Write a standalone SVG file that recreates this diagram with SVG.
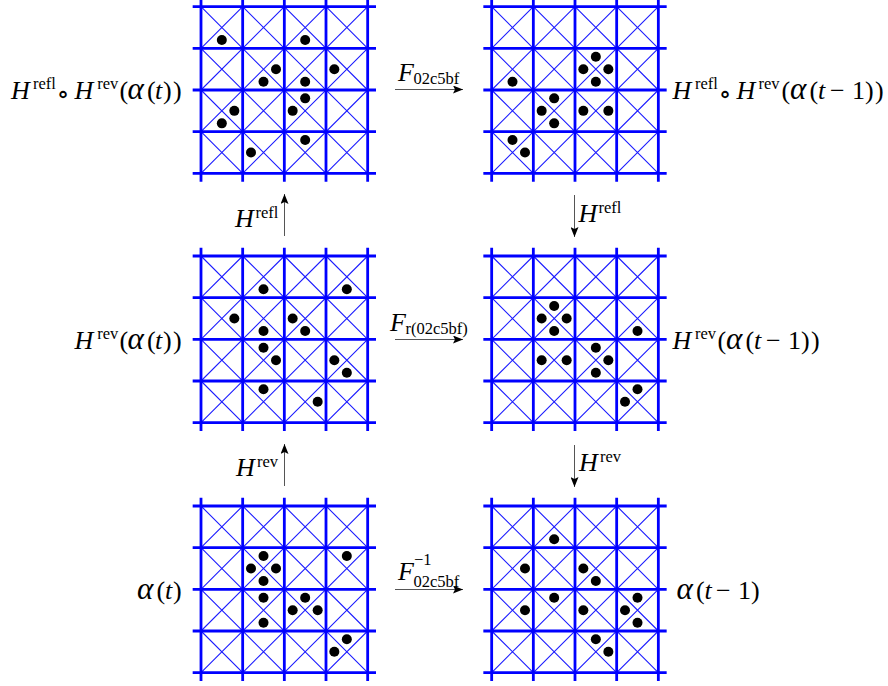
<svg xmlns="http://www.w3.org/2000/svg" xmlns:xlink="http://www.w3.org/1999/xlink" width="888" height="686" viewBox="0 0 888 686">
<style>
.diag{fill:none;stroke:#1c1cff;stroke-width:1.1}
.thick{fill:none;stroke:#0000ff;stroke-width:2.8}
.dot{fill:#000}
.t{font-family:"Liberation Serif","DejaVu Serif",serif;font-size:26px;fill:#000}
.i{font-style:italic}
.a{font-style:italic;font-size:31px}
.s{font-size:16.5px}
.op{font-family:"DejaVu Serif","Liberation Serif",serif;font-size:27px;text-anchor:middle}
.arr{stroke:#555;stroke-width:1;fill:none;marker-end:url(#ah)}
</style>
<defs>
<marker id="ah" viewBox="0 0 10 8" refX="10" refY="4" markerWidth="10" markerHeight="8" markerUnits="userSpaceOnUse" orient="auto">
<path d="M0,0 L10,4 L0,8 L2,4 z" fill="#000"/>
</marker>
<g id="grid">
<path class="diag" d="M0,0L166.67,166.67M41.67,0L166.67,125M83.33,0L166.67,83.33M125,0L166.67,41.67M0,41.67L125,166.67M0,83.33L83.33,166.67M0,125L41.67,166.67M0,41.67L41.67,0M0,83.33L83.33,0M0,125L125,0M0,166.67L166.67,0M41.67,166.67L166.67,41.67M83.33,166.67L166.67,83.33M125,166.67L166.67,125"/>
<path class="thick" d="M-8.33,0H175M-8.33,41.67H175M-8.33,83.33H175M-8.33,125H175M-8.33,166.67H175M0,-8.33V175M41.67,-8.33V175M83.33,-8.33V175M125,-8.33V175M166.67,-8.33V175"/>
</g>
</defs>
<rect width="888" height="686" fill="#fff"/>

<g id="node-a">
<g transform="translate(201,6.67)">
<use href="#grid"/>
<circle class="dot" r="5" cx="20.83" cy="33.33"/><circle class="dot" r="5" cx="104.17" cy="33.33"/>
<circle class="dot" r="5" cx="75" cy="62.5"/><circle class="dot" r="5" cx="62.5" cy="75"/>
<circle class="dot" r="5" cx="133.33" cy="62.5"/><circle class="dot" r="5" cx="104.17" cy="75"/>
<circle class="dot" r="5" cx="104.17" cy="91.67"/><circle class="dot" r="5" cx="33.33" cy="104.17"/>
<circle class="dot" r="5" cx="20.83" cy="116.67"/><circle class="dot" r="5" cx="91.67" cy="104.17"/>
<circle class="dot" r="5" cx="104.17" cy="133.33"/><circle class="dot" r="5" cx="50" cy="145.83"/>
</g>
<text class="t"><tspan class="i" x="11" y="98.5">H</tspan><tspan class="s" x="33" y="89">refl</tspan><tspan class="op" x="63" y="103">∘</tspan><tspan class="i" x="74.5" y="98.5">H</tspan><tspan class="s" x="97.2" y="89">rev</tspan><tspan x="119.5" y="98.5">(</tspan><tspan class="a" x="127.5" y="98.5">α</tspan><tspan x="147" y="98.5">(</tspan><tspan class="i" x="155" y="98.5">t</tspan><tspan x="163" y="98.5">)</tspan><tspan x="173" y="98.5">)</tspan></text>
</g>

<g id="node-b">
<g transform="translate(491.67,6.67)">
<use href="#grid"/>
<circle class="dot" r="5" cx="104.17" cy="50"/><circle class="dot" r="5" cx="91.67" cy="62.5"/>
<circle class="dot" r="5" cx="116.67" cy="62.5"/><circle class="dot" r="5" cx="104.17" cy="75"/>
<circle class="dot" r="5" cx="20.83" cy="75"/><circle class="dot" r="5" cx="62.5" cy="91.67"/>
<circle class="dot" r="5" cx="50" cy="104.17"/><circle class="dot" r="5" cx="62.5" cy="116.67"/>
<circle class="dot" r="5" cx="91.67" cy="104.17"/><circle class="dot" r="5" cx="116.67" cy="104.17"/>
<circle class="dot" r="5" cx="20.83" cy="133.33"/><circle class="dot" r="5" cx="33.33" cy="145.83"/>
</g>
<text class="t"><tspan class="i" x="672.5" y="98.5">H</tspan><tspan class="s" x="695" y="89">refl</tspan><tspan class="op" x="725" y="103">∘</tspan><tspan class="i" x="736.5" y="98.5">H</tspan><tspan class="s" x="758.5" y="89">rev</tspan><tspan x="781.5" y="98.5">(</tspan><tspan class="a" x="790" y="98.5">α</tspan><tspan x="809.5" y="98.5">(</tspan><tspan class="i" x="818" y="98.5">t</tspan><tspan x="830" y="98.5">−</tspan><tspan x="852" y="98.5">1</tspan><tspan x="865" y="98.5">)</tspan><tspan x="875" y="98.5">)</tspan></text>
</g>

<g id="node-c">
<g transform="translate(201,256)">
<use href="#grid"/>
<circle class="dot" r="5" cx="62.5" cy="33.33"/><circle class="dot" r="5" cx="145.83" cy="33.33"/>
<circle class="dot" r="5" cx="33.33" cy="62.5"/><circle class="dot" r="5" cx="62.5" cy="75"/>
<circle class="dot" r="5" cx="91.67" cy="62.5"/><circle class="dot" r="5" cx="104.17" cy="75"/>
<circle class="dot" r="5" cx="62.5" cy="91.67"/><circle class="dot" r="5" cx="75" cy="104.17"/>
<circle class="dot" r="5" cx="133.33" cy="104.17"/><circle class="dot" r="5" cx="145.83" cy="116.67"/>
<circle class="dot" r="5" cx="62.5" cy="133.33"/><circle class="dot" r="5" cx="116.67" cy="145.83"/>
</g>
<text class="t"><tspan class="i" x="74.5" y="348.5">H</tspan><tspan class="s" x="97.2" y="339">rev</tspan><tspan x="119.5" y="348.5">(</tspan><tspan class="a" x="127.5" y="348.5">α</tspan><tspan x="147" y="348.5">(</tspan><tspan class="i" x="155" y="348.5">t</tspan><tspan x="163" y="348.5">)</tspan><tspan x="173" y="348.5">)</tspan></text>
</g>

<g id="node-d">
<g transform="translate(491.67,256)">
<use href="#grid"/>
<circle class="dot" r="5" cx="62.5" cy="50"/><circle class="dot" r="5" cx="50" cy="62.5"/>
<circle class="dot" r="5" cx="75" cy="62.5"/><circle class="dot" r="5" cx="62.5" cy="75"/>
<circle class="dot" r="5" cx="145.83" cy="75"/><circle class="dot" r="5" cx="104.17" cy="91.67"/>
<circle class="dot" r="5" cx="116.67" cy="104.17"/><circle class="dot" r="5" cx="104.17" cy="116.67"/>
<circle class="dot" r="5" cx="50" cy="104.17"/><circle class="dot" r="5" cx="75" cy="104.17"/>
<circle class="dot" r="5" cx="145.83" cy="133.33"/><circle class="dot" r="5" cx="133.33" cy="145.83"/>
</g>
<text class="t"><tspan class="i" x="672.5" y="348.5">H</tspan><tspan class="s" x="695" y="339">rev</tspan><tspan x="717.5" y="348.5">(</tspan><tspan class="a" x="726" y="348.5">α</tspan><tspan x="745.5" y="348.5">(</tspan><tspan class="i" x="754" y="348.5">t</tspan><tspan x="766" y="348.5">−</tspan><tspan x="788" y="348.5">1</tspan><tspan x="801" y="348.5">)</tspan><tspan x="811" y="348.5">)</tspan></text>
</g>

<g id="node-e">
<g transform="translate(201,506)">
<use href="#grid"/>
<circle class="dot" r="5" cx="62.5" cy="50"/><circle class="dot" r="5" cx="50" cy="62.5"/>
<circle class="dot" r="5" cx="75" cy="62.5"/><circle class="dot" r="5" cx="62.5" cy="75"/>
<circle class="dot" r="5" cx="145.83" cy="50"/><circle class="dot" r="5" cx="62.5" cy="91.67"/>
<circle class="dot" r="5" cx="62.5" cy="116.67"/><circle class="dot" r="5" cx="104.17" cy="91.67"/>
<circle class="dot" r="5" cx="91.67" cy="104.17"/><circle class="dot" r="5" cx="116.67" cy="104.17"/>
<circle class="dot" r="5" cx="145.83" cy="133.33"/><circle class="dot" r="5" cx="133.33" cy="145.83"/>
</g>
<text class="t"><tspan class="a" x="137" y="598.5">α</tspan><tspan x="156.5" y="598.5">(</tspan><tspan class="i" x="165" y="598.5">t</tspan><tspan x="173" y="598.5">)</tspan></text>
</g>

<g id="node-f">
<g transform="translate(491.67,506)">
<use href="#grid"/>
<circle class="dot" r="5" cx="62.5" cy="33.33"/><circle class="dot" r="5" cx="33.33" cy="62.5"/>
<circle class="dot" r="5" cx="91.67" cy="62.5"/><circle class="dot" r="5" cx="104.17" cy="75"/>
<circle class="dot" r="5" cx="62.5" cy="91.67"/><circle class="dot" r="5" cx="33.33" cy="104.17"/>
<circle class="dot" r="5" cx="91.67" cy="104.17"/><circle class="dot" r="5" cx="145.83" cy="91.67"/>
<circle class="dot" r="5" cx="133.33" cy="104.17"/><circle class="dot" r="5" cx="145.83" cy="116.67"/>
<circle class="dot" r="5" cx="104.17" cy="133.33"/><circle class="dot" r="5" cx="116.67" cy="145.83"/>
</g>
<text class="t"><tspan class="a" x="676.5" y="598.5">α</tspan><tspan x="696" y="598.5">(</tspan><tspan class="i" x="704.5" y="598.5">t</tspan><tspan x="716" y="598.5">−</tspan><tspan x="738" y="598.5">1</tspan><tspan x="751" y="598.5">)</tspan></text>
</g>

<g id="connectors">
<line class="arr" x1="395" y1="89.5" x2="463" y2="89.5"/>
<line class="arr" x1="395" y1="339.5" x2="463" y2="339.5"/>
<line class="arr" x1="395" y1="589.5" x2="463" y2="589.5"/>
<line class="arr" x1="284.5" y1="236" x2="284.5" y2="194"/>
<line class="arr" x1="574.5" y1="195" x2="574.5" y2="237"/>
<line class="arr" x1="284.5" y1="486" x2="284.5" y2="444"/>
<line class="arr" x1="574.5" y1="445" x2="574.5" y2="487"/>
<text class="t"><tspan class="i" x="398" y="80.5">F</tspan><tspan class="s" x="413.5" y="84">02c5bf</tspan></text>
<text class="t"><tspan class="i" x="390" y="330.5">F</tspan><tspan class="s" x="405.5" y="334">r(02c5bf)</tspan></text>
<text class="t"><tspan class="i" x="398" y="580">F</tspan><tspan class="s" x="414" y="565">−1</tspan><tspan class="s" x="413.5" y="587">02c5bf</tspan></text>
<text class="t"><tspan class="i" x="235" y="227">H</tspan><tspan class="s" x="255.5" y="217.5">refl</tspan></text>
<text class="t"><tspan class="i" x="578.5" y="222">H</tspan><tspan class="s" x="598.5" y="212.5">refl</tspan></text>
<text class="t"><tspan class="i" x="236" y="476">H</tspan><tspan class="s" x="257" y="466.5">rev</tspan></text>
<text class="t"><tspan class="i" x="579" y="471">H</tspan><tspan class="s" x="600" y="461.5">rev</tspan></text>
</g>
</svg>
